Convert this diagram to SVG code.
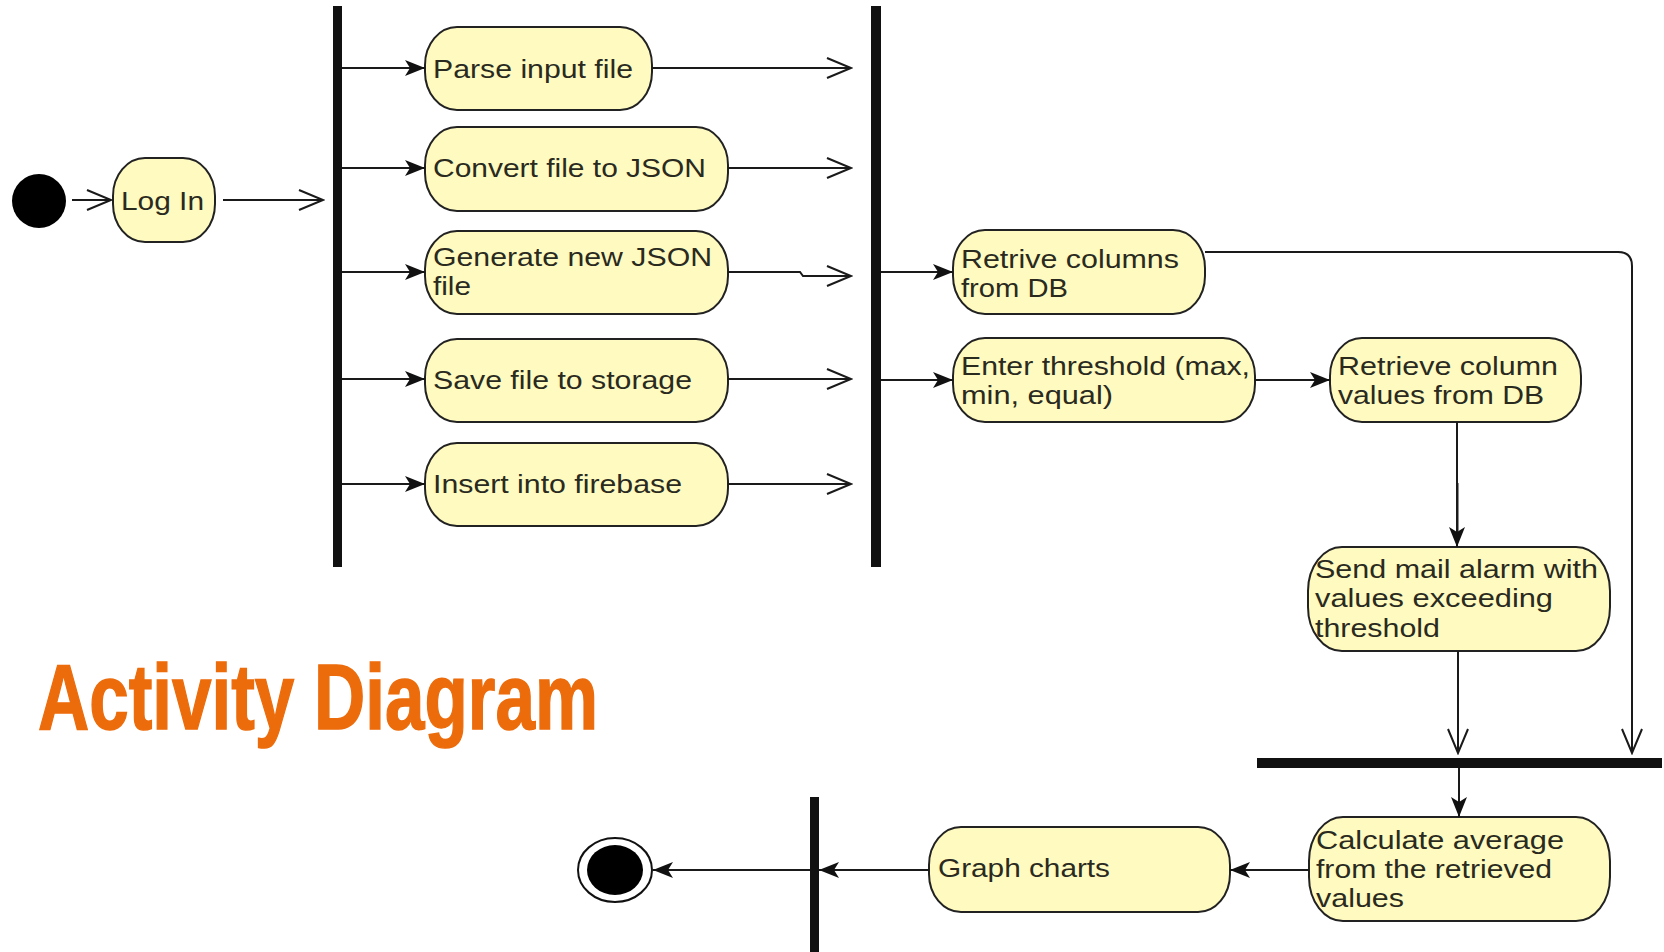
<svg xmlns="http://www.w3.org/2000/svg" width="1664" height="952" viewBox="0 0 1664 952">
  <style>
    .act rect { fill: #FFFBC0; stroke: #222; stroke-width: 2; }
    .act text { font-family: "Liberation Sans", Arial, sans-serif; font-size: 25px; fill: #2a2a1e; }
    .bar { fill: #111; }
    .edge { fill: none; stroke: #1a1a1a; stroke-width: 2; }
    .solid { marker-end: url(#filled); }
    .open { marker-end: url(#openhead); }
    .title { font-family: "Liberation Sans Narrow", "Liberation Sans", Arial, sans-serif; font-weight: bold; font-size: 93px; fill: #EC6C0C; stroke: #EC6C0C; stroke-width: 1.5; }
  </style>
  <defs>
    <marker id="filled" markerUnits="userSpaceOnUse" viewBox="0 0 20 16" refX="20" refY="8" markerWidth="20" markerHeight="16" orient="auto">
      <path d="M0,0 L20,8 L0,16 L5,8 Z" fill="#111"/>
    </marker>
    <marker id="openhead" markerUnits="userSpaceOnUse" viewBox="-2 -2 28 24" refX="24" refY="10" markerWidth="28" markerHeight="24" orient="auto">
      <path d="M0,0 L24,10 L0,20" fill="none" stroke="#1a1a1a" stroke-width="2"/>
    </marker>
  </defs>

  <rect width="1664" height="952" fill="#fff"/>

  <!-- start / end -->
  <g id="start"><circle cx="39" cy="201" r="27" fill="#000"/></g>
  <g id="end">
    <ellipse cx="615" cy="870" rx="37" ry="32" fill="#fff" stroke="#111" stroke-width="2"/>
    <ellipse cx="615" cy="870" rx="28" ry="25" fill="#000"/>
  </g>

  <!-- fork / join bars -->
  <g id="fork1"><rect class="bar" x="333" y="6" width="9" height="561"/></g>
  <g id="join1"><rect class="bar" x="871" y="6" width="10" height="561"/></g>
  <g id="join2"><rect class="bar" x="1257" y="758" width="405" height="10"/></g>
  <g id="join3"><rect class="bar" x="810" y="797" width="9" height="155"/></g>

  <!-- activities -->
  <g id="login" class="act">
    <rect x="113" y="158" width="102" height="84" rx="32" ry="38"/>
    <text x="121" y="210" textLength="83" lengthAdjust="spacingAndGlyphs">Log In</text>
  </g>
  <g id="parse" class="act">
    <rect x="425" y="27" width="227" height="83" rx="32" ry="38"/>
    <text x="433" y="78" textLength="200" lengthAdjust="spacingAndGlyphs">Parse input file</text>
  </g>
  <g id="convert" class="act">
    <rect x="425" y="127" width="303" height="84" rx="32" ry="38"/>
    <text x="433" y="177" textLength="273" lengthAdjust="spacingAndGlyphs">Convert file to JSON</text>
  </g>
  <g id="generate" class="act">
    <rect x="425" y="231" width="303" height="83" rx="32" ry="38"/>
    <text x="433" y="266" textLength="279" lengthAdjust="spacingAndGlyphs">Generate new JSON</text>
    <text x="433" y="295" textLength="38" lengthAdjust="spacingAndGlyphs">file</text>
  </g>
  <g id="save" class="act">
    <rect x="425" y="339" width="303" height="83" rx="32" ry="38"/>
    <text x="433" y="389" textLength="259" lengthAdjust="spacingAndGlyphs">Save file to storage</text>
  </g>
  <g id="insert" class="act">
    <rect x="425" y="443" width="303" height="83" rx="32" ry="38"/>
    <text x="433" y="493" textLength="249" lengthAdjust="spacingAndGlyphs">Insert into firebase</text>
  </g>
  <g id="retrive" class="act">
    <rect x="953" y="230" width="252" height="84" rx="32" ry="38"/>
    <text x="961" y="268" textLength="218" lengthAdjust="spacingAndGlyphs">Retrive columns</text>
    <text x="961" y="297" textLength="107" lengthAdjust="spacingAndGlyphs">from DB</text>
  </g>
  <g id="threshold" class="act">
    <rect x="953" y="338" width="302" height="84" rx="32" ry="38"/>
    <text x="961" y="375" textLength="289" lengthAdjust="spacingAndGlyphs">Enter threshold (max,</text>
    <text x="961" y="404" textLength="152" lengthAdjust="spacingAndGlyphs">min, equal)</text>
  </g>
  <g id="retrieve" class="act">
    <rect x="1330" y="338" width="251" height="84" rx="32" ry="38"/>
    <text x="1338" y="375" textLength="220" lengthAdjust="spacingAndGlyphs">Retrieve column</text>
    <text x="1338" y="404" textLength="206" lengthAdjust="spacingAndGlyphs">values from DB</text>
  </g>
  <g id="mail" class="act">
    <rect x="1308" y="547" width="302" height="104" rx="34" ry="44"/>
    <text x="1315" y="578" textLength="283" lengthAdjust="spacingAndGlyphs">Send mail alarm with</text>
    <text x="1315" y="607" textLength="238" lengthAdjust="spacingAndGlyphs">values exceeding</text>
    <text x="1315" y="637" textLength="125" lengthAdjust="spacingAndGlyphs">threshold</text>
  </g>
  <g id="average" class="act">
    <rect x="1309" y="817" width="301" height="104" rx="34" ry="44"/>
    <text x="1316" y="849" textLength="248" lengthAdjust="spacingAndGlyphs">Calculate average</text>
    <text x="1316" y="878" textLength="236" lengthAdjust="spacingAndGlyphs">from the retrieved</text>
    <text x="1316" y="907" textLength="88" lengthAdjust="spacingAndGlyphs">values</text>
  </g>
  <g id="graph" class="act">
    <rect x="929" y="827" width="301" height="85" rx="32" ry="38"/>
    <text x="938" y="877" textLength="172" lengthAdjust="spacingAndGlyphs">Graph charts</text>
  </g>

  <!-- connectors -->
  <g id="connectors">
    <path class="edge open" d="M72,200 H111"/>
    <path class="edge open" d="M223,200 H323"/>

    <path class="edge solid" d="M342,68 H425"/>
    <path class="edge solid" d="M342,168 H425"/>
    <path class="edge solid" d="M342,272 H425"/>
    <path class="edge solid" d="M342,379 H425"/>
    <path class="edge solid" d="M342,484 H425"/>

    <path class="edge open" d="M652,68 H851"/>
    <path class="edge open" d="M728,168 H851"/>
    <path class="edge open" d="M728,272 H800 L803,276 H851"/>
    <path class="edge open" d="M728,379 H851"/>
    <path class="edge open" d="M728,484 H851"/>

    <path class="edge solid" d="M881,272 H953"/>
    <path class="edge solid" d="M881,380 H953"/>
    <path class="edge solid" d="M1255,380 H1330"/>

    <path class="edge solid" d="M1457,422 V547"/>
    <path class="edge" d="M1457.5,483 V532" stroke-width="3.5"/>

    <path class="edge open" d="M1205,252 H1618 Q1632,252 1632,266 V753"/>
    <path class="edge open" d="M1458,651 V753"/>

    <path class="edge solid" d="M1459,768 V817"/>
    <path class="edge solid" d="M1309,870 H1230"/>
    <path class="edge solid" d="M929,870 H819"/>
    <path class="edge solid" d="M810,870 H653"/>
  </g>

  <text class="title" x="38" y="729" textLength="560" lengthAdjust="spacingAndGlyphs">Activity Diagram</text>
</svg>
